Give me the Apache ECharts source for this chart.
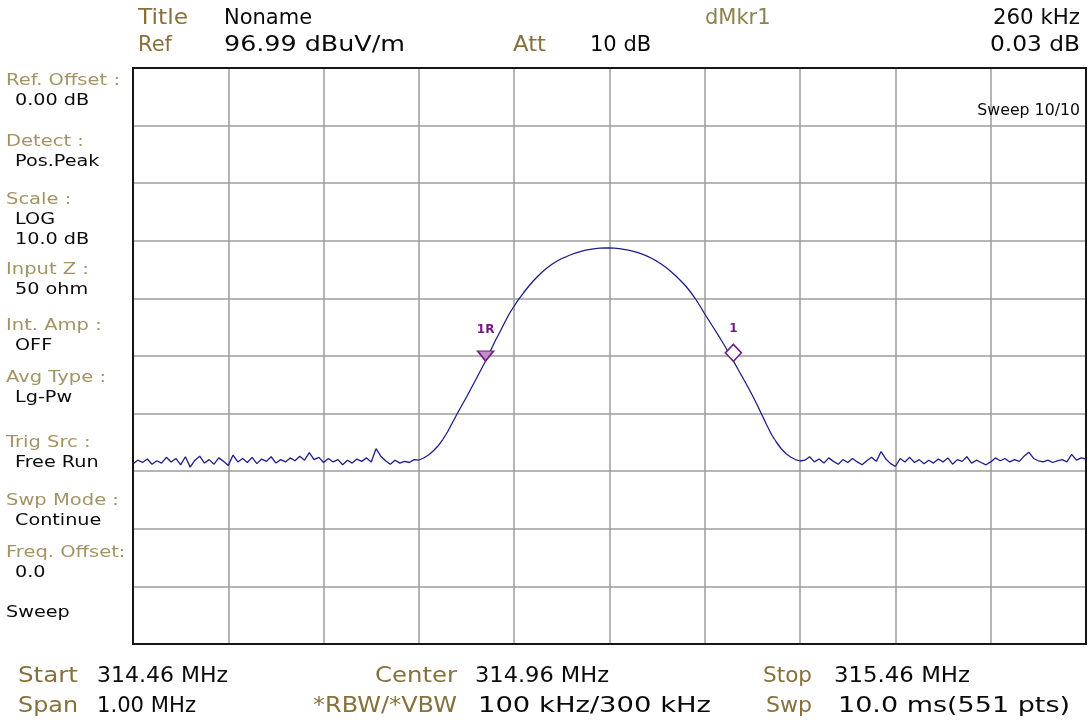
<!DOCTYPE html>
<html>
<head>
<meta charset="utf-8">
<script src="https://cdn.jsdelivr.net/npm/echarts@6/dist/echarts.min.js"></script>
<style>
  html, body { margin: 0; padding: 0; background: #fff; }
  #chart { width: 1090px; height: 724px; }
</style>
</head>
<body>
<div id="chart"></div>
<script>
// sweep settings (span 1 MHz from 314.46 MHz, ref level 96.99 dBuV/m, 10 dB/div)
const REF_LEVEL = 96.99
const SPAN_KHZ = 1000
const STEP_KHZ = 5

// trace levels in dBuV/m, one per 5 kHz step
const levels = [
    28.3, 28.9, 28.5, 29.1, 28.2, 28.8, 28.4, 29.4, 28.6, 29.2,
    28.1, 29.5, 27.7, 28.9, 29.6, 28.4, 29.0, 28.2, 29.3, 28.7,
    28.0, 29.8, 28.6, 29.2, 28.5, 29.4, 28.3, 29.1, 28.7, 29.5,
    28.4, 29.0, 28.6, 29.3, 28.8, 29.6, 28.9, 30.2, 29.0, 29.4,
    28.5, 29.2, 28.6, 29.0, 28.1, 28.9, 28.4, 29.1, 28.7, 29.3,
    28.6, 30.9, 29.6, 28.8, 28.2, 28.9, 28.4, 28.7, 28.5, 29.0,
    28.93, 29.28, 29.80, 30.50, 31.36, 32.49, 33.80, 35.36, 36.92, 38.40,
    39.87, 41.43, 42.99, 44.56, 46.12, 47.86, 49.59, 51.16, 52.81, 54.37,
    55.67, 56.89, 58.01, 59.06, 60.01, 60.88, 61.66, 62.35, 62.96, 63.48,
    63.92, 64.26, 64.61, 64.91, 65.15, 65.36, 65.51, 65.64, 65.71, 65.74,
    65.74, 65.71, 65.64, 65.51, 65.36, 65.17, 64.92, 64.63, 64.28, 63.88,
    63.41, 62.87, 62.27, 61.57, 60.83, 60.01, 59.14, 58.10, 56.97, 55.67,
    54.28, 52.98, 51.68, 50.37, 48.99, 47.60, 46.15, 44.65, 43.17, 41.69,
    40.13, 38.48, 36.75, 35.01, 33.36, 32.06, 30.93, 30.06, 29.46, 29.02,
    28.76, 28.9, 29.5, 28.6, 29.1, 28.4, 29.3, 28.7, 28.2, 29.0,
    28.5, 29.2, 28.6, 28.1, 28.8, 29.4, 28.7, 30.4, 29.1, 28.3,
    27.8, 29.2, 28.6, 29.4, 28.5, 29.0, 28.3, 28.9, 28.4, 29.1,
    28.6, 29.3, 28.2, 29.0, 28.7, 29.5, 28.4, 28.9, 28.5, 28.1,
    28.6, 29.3, 28.8, 29.2, 28.6, 29.0, 28.7, 29.6, 30.3, 29.2,
    28.8, 28.6, 28.9, 28.5, 28.8, 29.0, 28.6, 29.9, 28.9, 29.3,
    29.1
]

// markers: reference marker 1R and delta marker 1 (sweep point index)
const markerNames = ['1R', '1']
const markerIdx = [74, 126]

// side panel: [label, value lines]
const panelItems = [
    ['Ref. Offset :', ['0.00 dB']],
    ['Detect :', ['Pos.Peak']],
    ['Scale :', ['LOG', '10.0 dB']],
    ['Input Z :', ['50 ohm']],
    ['Int. Amp :', ['OFF']],
    ['Avg Type :', ['Lg-Pw']],
    ['Trig Src :', ['Free Run']],
    ['Swp Mode :', ['Continue']],
    ['Freq. Offset:', ['0.0']]
]
const panelLabelY = [81, 142, 200, 270, 326, 378, 443, 501, 553]

// header / footer text: [text, x, y, width, isLabel, alignRight]
const infoTexts = [
    ['Title', 138, 19, 50, true],
    ['Noname', 224, 19, 84],
    ['Ref', 138, 46, 34, true],
    ['96.99 dBuV/m', 224, 46, 181],
    ['Att', 513, 46, 33, true],
    ['10 dB', 590, 46, 58],
    ['dMkr1', 705, 19, 57, true],
    ['260 kHz', 1080, 19, 87, false, true],
    ['0.03 dB', 1080, 46, 90, false, true],
    ['Start', 18, 677, 60, true],
    ['314.46 MHz', 97, 677, 131],
    ['Center', 457, 677, 82, true, true],
    ['314.96 MHz', 475, 677, 134],
    ['Stop', 763, 677, 49, true],
    ['315.46 MHz', 834, 677, 136],
    ['Span', 18, 707, 60, true],
    ['1.00 MHz', 97, 707, 99],
    ['*RBW/*VBW', 457, 707, 144, true, true],
    ['100 kHz/300 kHz', 478, 707, 233],
    ['Swp', 766, 707, 46, true],
    ['10.0 ms(551 pts)', 838, 707, 232]
]

const FONT = '"DejaVu Sans", Verdana, sans-serif'
const LABEL = '#86713c'
const PANEL = '#a39465'
const PURPLE = '#6e1c7c'

const chart = echarts.init(document.getElementById('chart'), null, { renderer: 'canvas' })

const traceData = levels.map((v, i) => [i * STEP_KHZ, v - REF_LEVEL])

// the analyser font is wider than DejaVu, so stretch each text to its width
const measureCtx = document.createElement('canvas').getContext('2d')
const widthOf = (text, font) => {
    measureCtx.font = font
    return measureCtx.measureText(text).width
}

const txt = (text, x, y, opt = {}) => {
    const font = `${opt.weight || 'normal'} ${opt.size || 21}px ${FONT}`
    let sx = opt.scaleX || 1
    if (opt.width) sx = Math.max(1, opt.width / widthOf(text, font))
    return {
        type: 'text',
        silent: true,
        x,
        y,
        scaleX: sx,
        z: 10,
        style: {
            text,
            x: 0,
            y: 0,
            fill: opt.fill || '#0a0a0a',
            font,
            align: opt.align || 'left',
            verticalAlign: 'middle'
        }
    }
}

let graphics = infoTexts.map(([t, x, y, w, isLabel, right]) =>
    txt(t, x, y, {
        width: w,
        fill: isLabel ? (t === 'dMkr1' ? '#8e8150' : LABEL) : '#0a0a0a',
        align: right ? 'right' : 'left'
    })
)

graphics.push(txt('Sweep 10/10', 1080, 111, { size: 15, scaleX: 1.05, align: 'right' }))
graphics.push(txt('Sweep', 6, 613, { size: 16, scaleX: 1.2 }))

panelItems.forEach(([label, values], k) => {
    const y0 = panelLabelY[k]
    graphics.push(txt(label, 6, y0, { fill: PANEL, size: 16, scaleX: 1.22 }))
    values.forEach((v, j) => {
        graphics.push(txt(v, 15, y0 + 20 + j * 20, { size: 16, scaleX: 1.2 }))
    })
})

// plot frame on top of the grid lines
graphics.push({
    type: 'rect',
    silent: true,
    z: 5,
    shape: { x: 133, y: 68, width: 953, height: 576 },
    style: { fill: null, stroke: '#151515', lineWidth: 2 }
})

const markData = markerIdx.map((idx, k) => {
    const isRef = k === 0
    return {
        coord: [idx * STEP_KHZ, levels[idx] - REF_LEVEL],
        symbol: isRef ? 'triangle' : 'diamond',
        symbolRotate: isRef ? 180 : 0,
        symbolSize: isRef ? [16, 10] : [16, 17],
        symbolOffset: isRef ? [0, -5] : [0, -8],
        itemStyle: {
            color: isRef ? '#c48ccc' : '#ffffff',
            borderColor: PURPLE,
            borderWidth: 1.5
        },
        label: {
            show: true,
            formatter: markerNames[k],
            position: 'top',
            distance: isRef ? 15 : 9,
            color: PURPLE,
            fontSize: 12,
            fontWeight: 'bold',
            fontFamily: FONT
        }
    }
})

const option = {
    backgroundColor: '#ffffff',
    animation: false,
    grid: {
        left: 133,
        top: 68,
        width: 953,
        height: 576,
        show: false
    },
    xAxis: {
        type: 'value',
        min: 0,
        max: SPAN_KHZ,
        interval: 100,
        axisLine: { show: false },
        axisTick: { show: false },
        axisLabel: { show: false },
        splitLine: { show: true, lineStyle: { color: '#9c9c9c', width: 1.5 } }
    },
    yAxis: {
        type: 'value',
        min: -100,
        max: 0,
        interval: 10,
        axisLine: { show: false },
        axisTick: { show: false },
        axisLabel: { show: false },
        splitLine: { show: true, lineStyle: { color: '#9c9c9c', width: 1.5 } }
    },
    series: [
        {
            type: 'line',
            data: traceData,
            showSymbol: false,
            symbol: 'none',
            lineStyle: { color: '#1e1e8c', width: 1.3 },
            markPoint: { data: markData, silent: true }
        }
    ],
    graphic: graphics
}

chart.setOption(option)
</script>
</body>
</html>
